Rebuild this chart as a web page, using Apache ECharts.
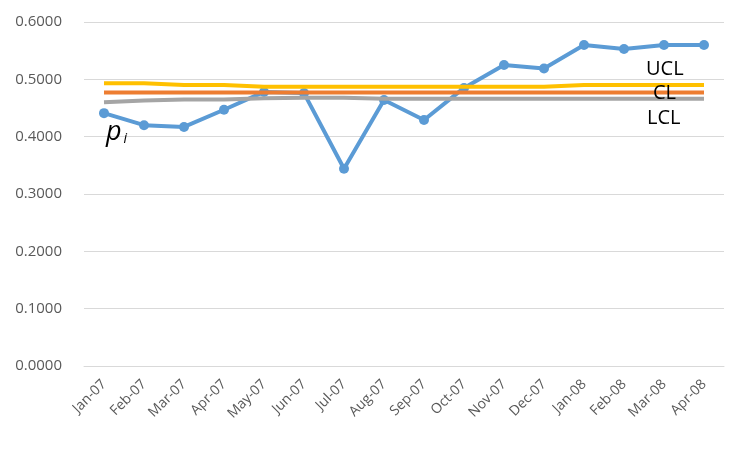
<!DOCTYPE html>
<html><head><meta charset="utf-8">
<script src="https://cdn.jsdelivr.net/npm/echarts@6/dist/echarts.min.js"></script>
<style>html,body{margin:0;padding:0;background:#fff}#c{width:744px;height:449px}</style>
</head><body><div id="c"></div>
<script>
const categories = ['Jan-07','Feb-07','Mar-07','Apr-07','May-07','Jun-07','Jul-07','Aug-07','Sep-07','Oct-07','Nov-07','Dec-07','Jan-08','Feb-08','Mar-08','Apr-08'];
const piValues = [0.441,0.420,0.417,0.447,0.478,0.476,0.344,0.464,0.429,0.485,0.525,0.519,0.560,0.553,0.560,0.560];
const uclValues = [0.493,0.493,0.490,0.490,0.487,0.487,0.487,0.487,0.487,0.487,0.487,0.487,0.490,0.490,0.490,0.490];
const clValues = [0.477,0.477,0.477,0.477,0.477,0.477,0.477,0.477,0.477,0.477,0.477,0.477,0.477,0.477,0.477,0.477];
const lclValues = [0.460,0.463,0.465,0.465,0.467,0.468,0.468,0.466,0.466,0.466,0.466,0.466,0.466,0.466,0.466,0.466];
const yTicks = [0, 0.1, 0.2, 0.3, 0.4, 0.5, 0.6];

const chart = echarts.init(document.getElementById('c'));
const lineStyle = (c) => ({ color: c, width: 4 });
chart.setOption({
  animation: false,
  grid: { left: 84, right: 20, top: 22, bottom: 83 },
  xAxis: {
    type: 'category', data: categories, boundaryGap: true,
    axisLine: { show: true, lineStyle: { color: '#D9D9D9', width: 1 } },
    axisTick: { show: false },
    axisLabel: { rotate: 45, color: '#595959', fontSize: 14, fontFamily: 'Open Sans', margin: 16, interval: 0 }
  },
  yAxis: {
    type: 'value', min: 0, max: 0.6, interval: 0.1,
    axisLine: { show: false }, axisTick: { show: false },
    splitLine: { lineStyle: { color: '#D9D9D9', width: 1 } },
    axisLabel: { color: '#595959', fontSize: 15, fontFamily: 'Open Sans', margin: 22,
      formatter: v => v.toFixed(4) }
  },
  series: [
    { name: 'pi', type: 'line', data: piValues, z: 1, symbol: 'circle', symbolSize: 10,
      lineStyle: lineStyle('#5B9BD5'), itemStyle: { color: '#5B9BD5' } },
    { name: 'UCL', type: 'line', data: uclValues, z: 2, symbol: 'none', lineStyle: lineStyle('#FFC000') },
    { name: 'CL', type: 'line', data: clValues, z: 3, symbol: 'none', lineStyle: lineStyle('#ED7D31') },
    { name: 'LCL', type: 'line', data: lclValues, z: 4, symbol: 'none', lineStyle: lineStyle('#A5A5A5') }
  ],
  graphic: [
    { type: 'text', left: 646, top: 59, style: { text: 'UCL', fontSize: 20, fontFamily: 'Open Sans', fill: '#000' }, z: 10 },
    { type: 'text', left: 653, top: 83, style: { text: 'CL', fontSize: 20, fontFamily: 'Open Sans', fill: '#000' }, z: 10 },
    { type: 'text', left: 647, top: 108, style: { text: 'LCL', fontSize: 20, fontFamily: 'Open Sans', fill: '#000' }, z: 10 },
    { type: 'text', left: 106, top: 119, style: { text: '{p|p}{i|i}', rich: {
        p: { fontSize: 27, fontStyle: 'italic', fontFamily: 'Open Sans', fill: '#000' },
        i: { fontSize: 14, fontStyle: 'italic', fontFamily: 'Open Sans', fill: '#000', padding: [13, 0, 0, 2] } } }, z: 10 }
  ]
});
</script></body></html>
